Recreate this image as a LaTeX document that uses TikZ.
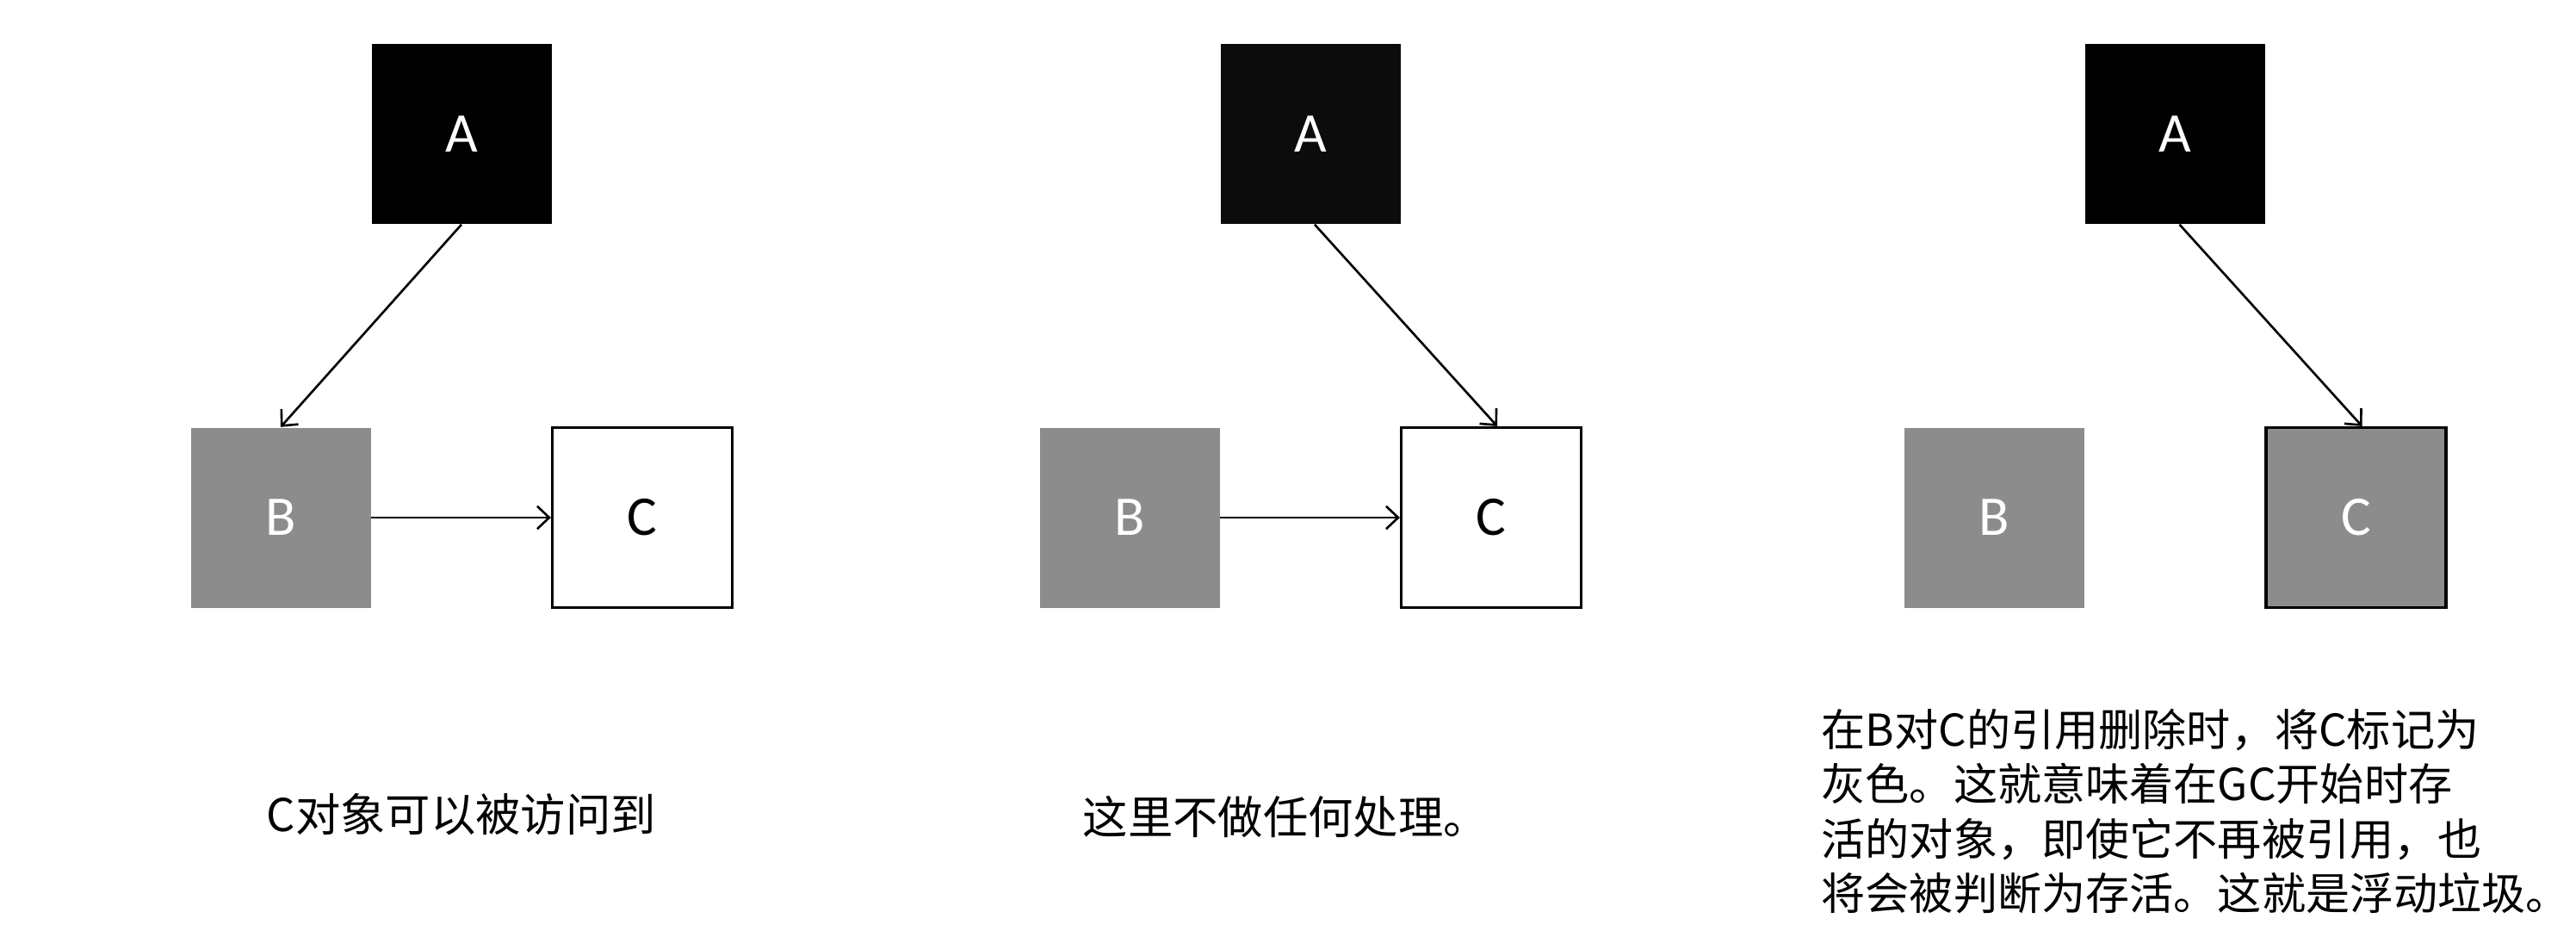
\documentclass[tikz,border=0pt]{standalone}
\usepackage{fontspec}
\usetikzlibrary{arrows.meta}
\newfontfamily\cjkfont{Noto Sans CJK SC}
\newfontfamily\boxfont{Carlito}
\definecolor{boxgray}{HTML}{8C8C8C}
\definecolor{nearblack}{HTML}{0C0C0C}
\tikzset{
  obj/.style={rectangle, minimum size=2.09cm, inner sep=0pt, font=\boxfont\fontsize{18.5pt}{20pt}\selectfont},
  blackobj/.style={obj, fill=black, text=white},
  grayobj/.style={obj, fill=boxgray, text=white},
  whiteobj/.style={obj, fill=white, draw=black, line width=0.9pt, text=black},
  grayborder/.style={obj, fill=boxgray, draw=black, line width=0.9pt, text=white},
  ref/.style={line width=0.75pt, -{Straight Barb[length=4pt,width=7.5pt,line width=0.75pt]}},
  caption/.style={font=\cjkfont\fontsize{14.9pt}{18.1pt}\selectfont, inner sep=0pt, anchor=west, align=left}
}
\begin{document}
\begin{tikzpicture}
\useasboundingbox (0,0) rectangle (29.92,-10.88);
\fill[white] (0,0) rectangle (29.92,-10.88);
% panel 1
\node[blackobj] (A1) at (5.36,-1.555) {A};
\node[grayobj] (B1) at (3.26,-6.01) {B};
\node[whiteobj] (C1) at (7.46,-6.01) {C};
\draw[ref] (A1.south) -- (B1.north);
\draw[ref] (B1.east) -- (C1.west);
\node[caption] (T1) at (3.09,-9.46) {C对象可以被访问到};
% panel 2
\node[obj, fill=nearblack, text=white] (A2) at (15.22,-1.555) {A};
\node[grayobj] (B2) at (13.12,-6.01) {B};
\node[whiteobj] (C2) at (17.32,-6.01) {C};
\draw[ref] ([xshift=0.05cm]A2.south) -- ([xshift=0.07cm]C2.north);
\draw[ref] (B2.east) -- (C2.west);
\node[caption] (T2) at (12.57,-9.48) {这里不做任何处理。};
% panel 3
\node[blackobj] (A3) at (25.265,-1.555) {A};
\node[grayobj] (B3) at (23.165,-6.01) {B};
\node[grayborder] (C3) at (27.365,-6.01) {C};
\draw[ref] ([xshift=0.05cm]A3.south) -- ([xshift=0.07cm]C3.north);
\node[caption, font=\cjkfont\fontsize{14.55pt}{18.1pt}\selectfont] (T3) at (21.15,-9.42) {在B对C的引用删除时，将C标记为\\灰色。这就意味着在GC开始时存\\活的对象，即使它不再被引用，也\\将会被判断为存活。这就是浮动垃圾。};
\end{tikzpicture}
\end{document}
